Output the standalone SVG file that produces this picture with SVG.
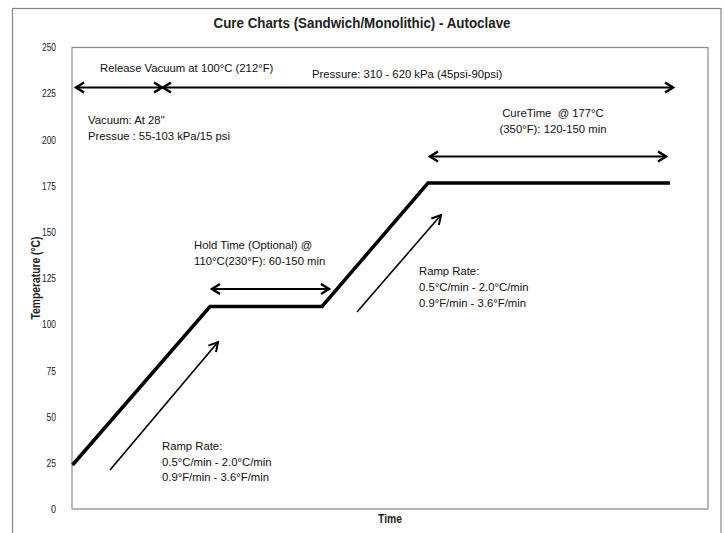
<svg xmlns="http://www.w3.org/2000/svg" width="724" height="533" viewBox="0 0 724 533">
<style>
.lbl{font-family:"Liberation Sans",Arial,sans-serif;font-size:11.3px;fill:#111}
.tick{font-family:"Liberation Sans",Arial,sans-serif;font-size:11.5px;fill:#222;text-anchor:end}
.bold{font-family:"Liberation Sans",Arial,sans-serif;font-weight:bold;fill:#222}
.curve{fill:none;stroke:#000;stroke-width:3.5;stroke-linejoin:miter}
.dbl{fill:none;stroke:#000;stroke-width:2.2}
.thin{fill:none;stroke:#000;stroke-width:1.6}
</style>
<defs>
<marker id="chev" viewBox="-12 -8 14 16" refX="0" refY="0" markerWidth="14" markerHeight="16" markerUnits="userSpaceOnUse" orient="auto-start-reverse">
<path d="M-8,-5 L0,0 L-8,5" fill="none" stroke="#000" stroke-width="2.4"/>
</marker>
<marker id="chevThin" viewBox="-12 -8 14 16" refX="0" refY="0" markerWidth="14" markerHeight="16" markerUnits="userSpaceOnUse" orient="auto">
<path d="M-9,-5 L0,0 L-9,5" fill="none" stroke="#000" stroke-width="2"/>
</marker>
</defs>
<rect x="0" y="0" width="724" height="533" fill="#fff"/>
<g id="frame">
<rect x="12.5" y="8.5" width="708.5" height="560" fill="none" stroke="#868686" stroke-width="1.2"/>
<rect x="72" y="47.5" width="636" height="461.5" fill="none" stroke="#8c8c8c" stroke-width="1.2"/>
<line x1="72" y1="509" x2="708" y2="509" stroke="#b5b5b5" stroke-width="2"/>
</g>
<g id="title">
<text class="bold" x="362" y="27.5" font-size="14.5" text-anchor="middle" textLength="297" lengthAdjust="spacingAndGlyphs">Cure Charts (Sandwich/Monolithic) - Autoclave</text>
</g>
<g id="y-axis">
<text class="tick" x="56" y="51" textLength="14" lengthAdjust="spacingAndGlyphs">250</text>
<text class="tick" x="56" y="97" textLength="14" lengthAdjust="spacingAndGlyphs">225</text>
<text class="tick" x="56" y="143.5" textLength="14" lengthAdjust="spacingAndGlyphs">200</text>
<text class="tick" x="56" y="189.5" textLength="14" lengthAdjust="spacingAndGlyphs">175</text>
<text class="tick" x="56" y="236" textLength="14" lengthAdjust="spacingAndGlyphs">150</text>
<text class="tick" x="56" y="282" textLength="14" lengthAdjust="spacingAndGlyphs">125</text>
<text class="tick" x="56" y="328" textLength="14" lengthAdjust="spacingAndGlyphs">100</text>
<text class="tick" x="56" y="374.5" textLength="9.5" lengthAdjust="spacingAndGlyphs">75</text>
<text class="tick" x="56" y="420.5" textLength="9.5" lengthAdjust="spacingAndGlyphs">50</text>
<text class="tick" x="56" y="467" textLength="9.5" lengthAdjust="spacingAndGlyphs">25</text>
<text class="tick" x="56" y="513" textLength="5" lengthAdjust="spacingAndGlyphs">0</text>
<text class="bold" font-size="12" transform="translate(39.5,278) rotate(-90)" text-anchor="middle" textLength="83" lengthAdjust="spacingAndGlyphs">Temperature (°C)</text>
</g>
<g id="x-axis">
<text class="bold" x="390" y="522.5" font-size="12" text-anchor="middle" textLength="24" lengthAdjust="spacingAndGlyphs">Time</text>
</g>
<g id="cure-curve">
<path class="curve" d="M72.5,465 L210,306.5 L322,306.5 L428,183 L670,183"/>
</g>
<g id="connectors">
<line class="dbl" x1="76" y1="87.5" x2="162" y2="87.5" marker-start="url(#chev)" marker-end="url(#chev)"/>
<line class="dbl" x1="163" y1="87.5" x2="673" y2="87.5" marker-start="url(#chev)" marker-end="url(#chev)"/>
<line class="dbl" x1="430" y1="156.5" x2="666" y2="156.5" marker-start="url(#chev)" marker-end="url(#chev)"/>
<line class="dbl" x1="212" y1="289" x2="329" y2="289" marker-start="url(#chev)" marker-end="url(#chev)"/>
<line class="thin" x1="110" y1="470" x2="218" y2="342" marker-end="url(#chevThin)"/>
<line class="thin" x1="357" y1="312" x2="441" y2="215" marker-end="url(#chevThin)"/>
</g>
<g id="label-release">
<text class="lbl" x="100" y="72">Release Vacuum at 100°C (212°F)</text>
</g>
<g id="label-vacuum">
<text class="lbl" x="88" y="124">Vacuum: At 28"</text>
<text class="lbl" x="88" y="140">Pressue : 55-103 kPa/15 psi</text>
</g>
<g id="label-pressure">
<text class="lbl" x="312" y="78">Pressure: 310 - 620 kPa (45psi-90psi)</text>
</g>
<g id="label-cure">
<text class="lbl" x="553" y="117" text-anchor="middle" xml:space="preserve">CureTime  @ 177°C</text>
<text class="lbl" x="553" y="133" text-anchor="middle">(350°F): 120-150 min</text>
</g>
<g id="label-hold">
<text class="lbl" x="194" y="249">Hold Time (Optional) @</text>
<text class="lbl" x="194" y="265">110°C(230°F): 60-150 min</text>
</g>
<g id="label-ramp2">
<text class="lbl" x="419" y="275">Ramp Rate:</text>
<text class="lbl" x="419" y="291">0.5°C/min - 2.0°C/min</text>
<text class="lbl" x="419" y="307">0.9°F/min - 3.6°F/min</text>
</g>
<g id="label-ramp1">
<text class="lbl" x="162" y="450">Ramp Rate:</text>
<text class="lbl" x="162" y="465.5">0.5°C/min - 2.0°C/min</text>
<text class="lbl" x="162" y="481">0.9°F/min - 3.6°F/min</text>
</g>
</svg>
